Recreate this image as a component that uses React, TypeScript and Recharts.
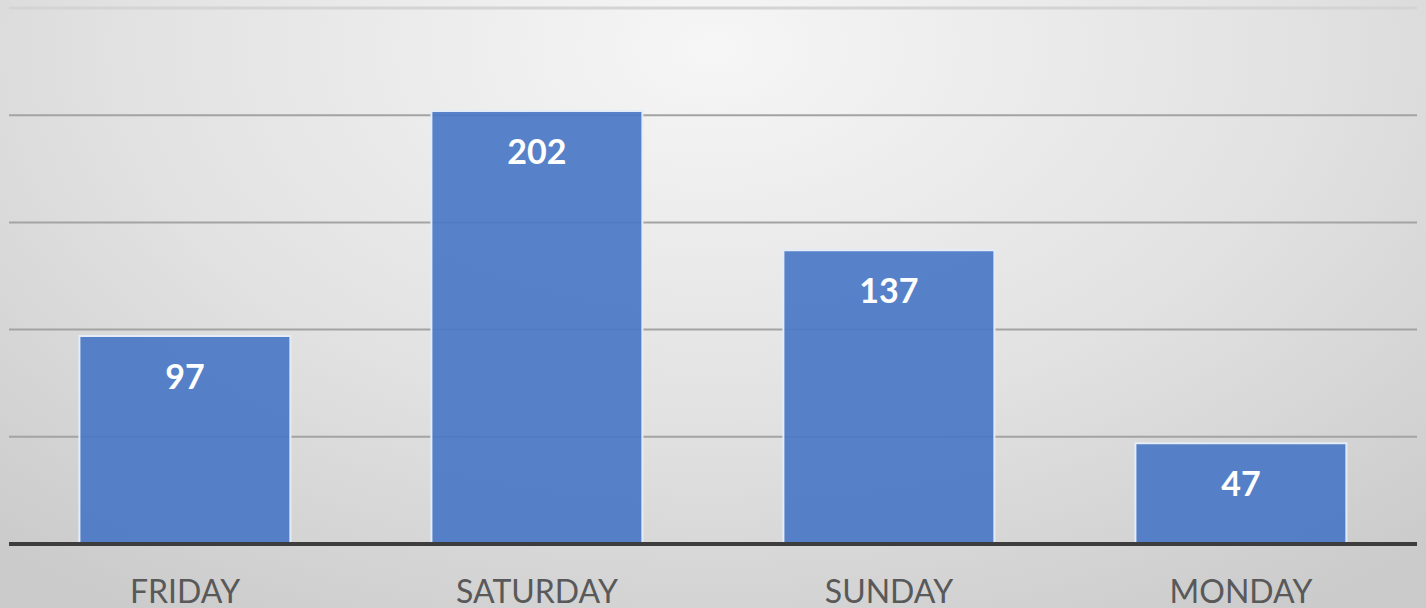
import { BarChart, Bar, XAxis, YAxis, CartesianGrid, LabelList, ReferenceLine } from "recharts"

const days = ["FRIDAY", "SATURDAY", "SUNDAY", "MONDAY"]
const counts = [97, 202, 137, 47]
const yTicks = [0, 50, 100, 150, 200, 250]
const yMax = 250

const data = days.map((day, i) => ({ day, count: counts[i] }))

export default function App() {
  return (
    <div
      style={{
        position: "absolute",
        left: 0,
        top: 0,
        width: 1426,
        height: 608,
        overflow: "hidden",
        background: "radial-gradient(ellipse 75% 110% at 50% 8%, #f6f6f6 0%, #e2e2e2 55%, #cbcbcb 100%)",
      }}
    >
      <BarChart
        width={1426}
        height={608}
        data={data}
        margin={{ top: 8, right: 9, bottom: 0, left: 9 }}
        barCategoryGap="20%"
      >
        <CartesianGrid horizontal vertical={false} stroke="#a3a3a3" strokeWidth={2} />
        <YAxis hide domain={[0, yMax]} ticks={yTicks} />
        <ReferenceLine y={yMax} stroke="#d4d4d4" strokeWidth={3} />
        <XAxis
          dataKey="day"
          height={64}
          axisLine={{ stroke: "#3d3d3d", strokeWidth: 4 }}
          tickLine={false}
          tickSize={0}
          tickMargin={36}
          tick={{ fill: "#595959", fontSize: 32, fontFamily: "Lato" }}
        />
        <Bar
          dataKey="count"
          fill="#4a78c6"
          fillOpacity={0.92}
          stroke="#e4ecf8"
          strokeWidth={2}
          isAnimationActive={false}
        >
          <LabelList
            dataKey="count"
            position="insideTop"
            offset={29}
            fill="#ffffff"
            fontSize={34}
            fontWeight="bold"
            fontFamily="Lato"
          />
        </Bar>
      </BarChart>
    </div>
  )
}
